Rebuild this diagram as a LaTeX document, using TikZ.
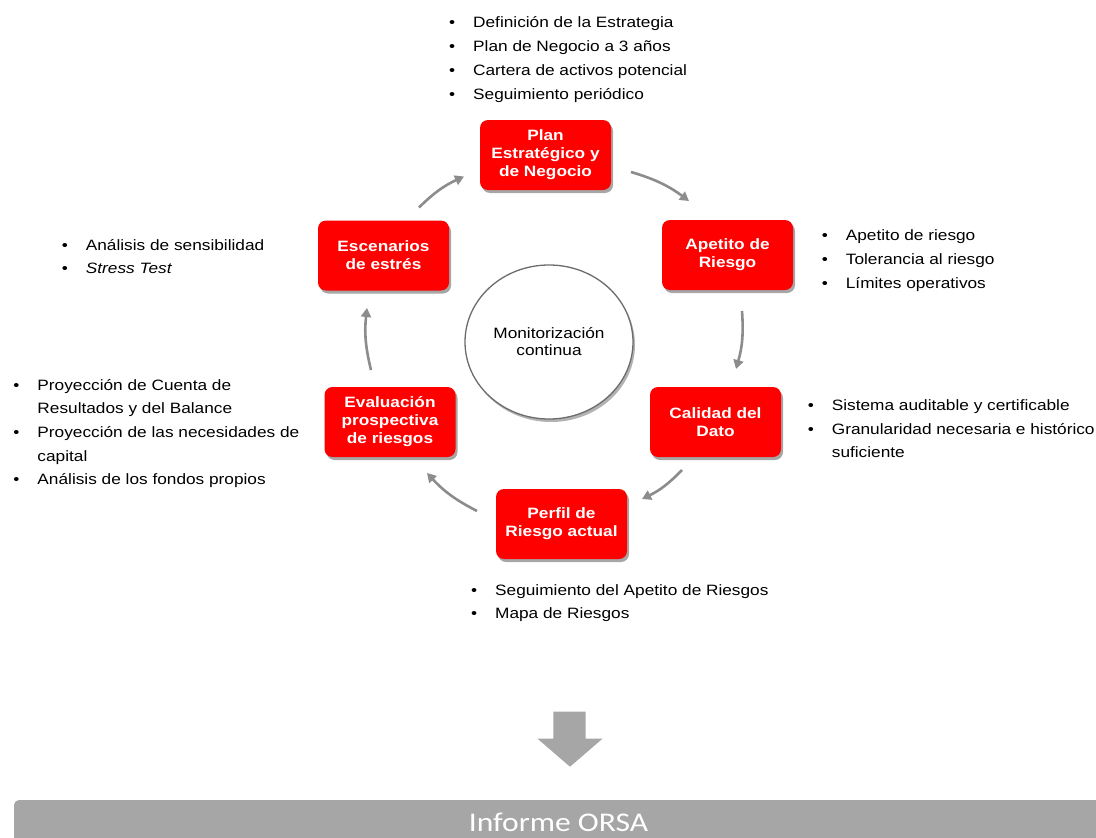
\documentclass[tikz,border=0pt]{standalone}
\usepackage{fontspec}
\setmainfont[FakeStretch=1.15]{Liberation Sans}
\newfontfamily\calibri[FakeStretch=1.17]{Carlito}
\usetikzlibrary{shadows,arrows.meta,shapes.geometric}
\definecolor{boxred}{HTML}{FF0000}
\definecolor{arrgray}{HTML}{8C8C8C}
\definecolor{bargray}{HTML}{A6A6A6}
\newcommand\bitem{\llap{•\hspace{18pt}}}
\begin{document}
\begin{tikzpicture}[x=1pt,y=-1pt,
  stepbox/.style={fill=boxred, rounded corners=8pt, minimum width=131pt, minimum height=70pt,
    inner sep=2pt, text=white, font=\fontsize{15}{18}\selectfont\bfseries, align=center,
    drop shadow={shadow xshift=2pt, shadow yshift=-3pt, opacity=0.35, fill=black}},
  lst/.style={anchor=base west, inner sep=0pt, font=\fontsize{15}{18}\selectfont},
  conn/.style={draw=arrgray, line width=2.6pt, -{Triangle[length=9pt,width=10pt]}}]
\useasboundingbox (0,0) rectangle (1096,838);

% central ellipse
\node[ellipse, draw=gray!85!black, line width=1.3pt, fill=white, minimum width=168pt, minimum height=154pt,
  align=center, font=\fontsize{15}{17}\selectfont,
  drop shadow={shadow xshift=2pt, shadow yshift=-3pt, opacity=0.3, fill=black}] (mon) at (549,342) {Monitorización\\continua};

% boxes
\node[stepbox] (plan) at (545.5,155) {Plan\\Estratégico y\\de Negocio};
\node[stepbox] (apet) at (727.5,255) {Apetito de\\Riesgo};
\node[stepbox] (cal) at (715.5,422) {Calidad del\\Dato};
\node[stepbox] (perf) at (561.5,524) {Perfil de\\Riesgo actual};
\node[stepbox] (eval) at (390,422) {Evaluación\\prospectiva\\de riesgos};
\node[stepbox] (esc) at (383.5,255.5) {Escenarios\\de estrés};

% connectors
\coordinate (a1s) at (419,207.5); \coordinate (a1e) at (464,176.5);
\coordinate (a2s) at (631,172); \coordinate (a2e) at (689,201);
\coordinate (a3s) at (742,311); \coordinate (a3e) at (736,369);
\coordinate (a4s) at (682,470); \coordinate (a4e) at (642,499);
\coordinate (a5s) at (477,511); \coordinate (a5e) at (427,473);
\coordinate (a6s) at (371,370); \coordinate (a6e) at (367,308);
\draw[conn] (a1s) to[bend left=10] (a1e);
\draw[conn] (a2s) to[bend left=10] (a2e);
\draw[conn] (a3s) to[bend left=10] (a3e);
\draw[conn] (a4s) to[bend left=10] (a4e);
\draw[conn] (a5s) to[bend left=10] (a5e);
\draw[conn] (a6s) to[bend left=10] (a6e);

% top list
\node[lst] (t1) at (473,27.3) {\bitem Definición de la Estrategia};
\node[lst] (t2) at (473,51.3) {\bitem Plan de Negocio a 3 años};
\node[lst] (t3) at (473,75.3) {\bitem Cartera de activos potencial};
\node[lst] (t4) at (473,99.3) {\bitem Seguimiento periódico};

% apetito list
\node[lst] (r1) at (845.7,240) {\bitem Apetito de riesgo};
\node[lst] (r2) at (845.7,264) {\bitem Tolerancia al riesgo};
\node[lst] (r3) at (845.7,288) {\bitem Límites operativos};

% calidad list
\node[lst] (c1) at (831.7,410) {\bitem Sistema auditable y certificable};
\node[lst] (c2) at (831.7,434) {\bitem Granularidad necesaria e histórico};
\node[lst] (c3) at (831.7,457.5) {suficiente};

% perfil list
\node[lst] (f1) at (495,595) {\bitem Seguimiento del Apetito de Riesgos};
\node[lst] (f2) at (495,618.5) {\bitem Mapa de Riesgos};

% evaluacion list
\node[lst] (e1) at (37.3,390) {\bitem Proyección de Cuenta de};
\node[lst] (e2) at (37.3,413.5) {Resultados y del Balance};
\node[lst] (e3) at (37.3,437.3) {\bitem Proyección de las necesidades de};
\node[lst] (e4) at (37.3,461) {capital};
\node[lst] (e5) at (37.3,484.5) {\bitem Análisis de los fondos propios};

% escenarios list
\node[lst] (s1) at (85.7,250) {\bitem Análisis de sensibilidad};
\node[lst] (s2) at (85.7,273) {\bitem \textit{Stress Test}};

% down arrow
\fill[bargray] (553.3,711.5) -- (585.7,711.5) -- (585.7,738.5) -- (602.7,738.5) -- (570,766.7)
  -- (537.3,738.5) -- (553.3,738.5) -- cycle;

% bottom bar
\fill[bargray] (14,840) [rounded corners=5pt] -- (14,800) [sharp corners] -- (1098,800) -- (1098,840) -- cycle;
\node[text=white, font=\calibri\fontsize{27}{30}\selectfont, inner sep=0pt] (orsa) at (558.5,822) {Informe ORSA};
\end{tikzpicture}
\end{document}
